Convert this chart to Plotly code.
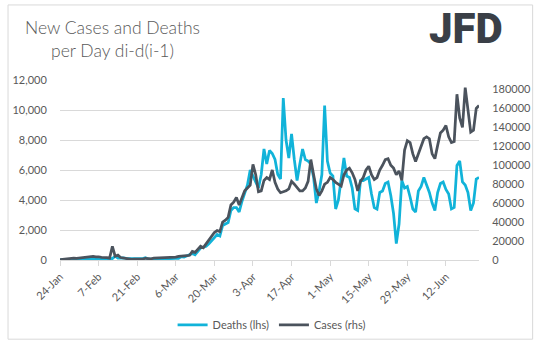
import pandas as pd
import plotly.graph_objects as go

start_date = "2020-01-24"

deaths = [
    8, 16, 15, 24, 26, 26, 38, 43, 46, 45, 57, 64, 65, 73,
    73, 86, 89, 97, 108, 97, 254, 121, 143, 142, 106, 98, 139, 115,
    118, 109, 97, 150, 71, 64, 37, 58, 68, 81, 71, 94, 80, 106,
    103, 101, 228, 194, 277, 342, 441, 354, 614, 800, 850, 907, 1078, 1296,
    1500, 1700, 1600, 2300, 2400, 2500, 3300, 3500, 3500, 3200, 3900, 4400, 5000, 6000,
    5600, 5300, 4800, 5700, 7400, 6400, 7300, 7100, 6700, 5700, 5400, 10800, 8000, 6800,
    8400, 6700, 5300, 6400, 7400, 6700, 6600, 6400, 5500, 3800, 4600, 5700, 10300, 6600,
    5800, 5600, 3400, 4000, 5500, 6800, 5600, 5500, 4800, 3400, 3300, 5300, 5300, 5400,
    5500, 4400, 3500, 3400, 4500, 4600, 5100, 5200, 4300, 3100, 1100, 2400, 5300, 4800,
    4900, 4200, 3400, 3200, 4600, 4900, 5500, 5000, 4500, 3800, 3300, 4500, 5100, 5200,
    4700, 4400, 3400, 3500, 6300, 6600, 5200, 5000, 4500, 3300, 3800, 5400, 5500,
]

cases = [
    300, 700, 700, 1800, 1500, 2000, 1700, 2100, 2600, 2800, 3200, 3900, 3700, 3200,
    3400, 2700, 3000, 2600, 2000, 14500, 4000, 5100, 2600, 2100, 2000, 1900, 600, 1000,
    1000, 1500, 1000, 1800, 1400, 1300, 1900, 2000, 1700, 1900, 2300, 2600, 2500, 2800,
    3000, 3800, 3900, 3700, 4500, 5000, 9000, 8000, 11000, 14500, 13000, 17000, 22000, 25000,
    29000, 31000, 30000, 40000, 42000, 45000, 58000, 61000, 66000, 58000, 65000, 73000, 76000, 79000,
    101000, 90000, 72000, 73000, 84000, 87000, 85000, 95000, 82000, 75000, 71000, 72000, 73000, 75000,
    83000, 80000, 76000, 73000, 73000, 76000, 83000, 106000, 90000, 75000, 68000, 73000, 80000, 82000,
    87000, 85000, 82000, 80000, 78000, 90000, 95000, 97000, 92000, 85000, 73000, 83000, 87000, 95000,
    99000, 90000, 85000, 87000, 95000, 100000, 106000, 107000, 100000, 97000, 90000, 94000, 84000, 116000,
    126000, 124000, 112000, 104000, 112000, 118000, 128000, 130000, 128000, 112000, 107000, 121000, 134000, 137000,
    142000, 130000, 124000, 125000, 175000, 150000, 140000, 182000, 155000, 135000, 137000, 160000, 163000,
]

tick_dates = ["2020-01-24", "2020-02-07", "2020-02-21", "2020-03-06", "2020-03-20",
              "2020-04-03", "2020-04-17", "2020-05-01", "2020-05-15", "2020-05-29", "2020-06-12"]
tick_labels = ["24-Jan", "7-Feb", "21-Feb", "6-Mar", "20-Mar", "3-Apr",
               "17-Apr", "1-May", "15-May", "29-May", "12-Jun"]

left_ticks = [0, 2000, 4000, 6000, 8000, 10000, 12000]
right_ticks = [0, 20000, 40000, 60000, 80000, 100000, 120000, 140000, 160000, 180000]

dates = pd.date_range(start_date, periods=len(deaths), freq="D")

CYAN = "#11b3d9"
DARK = "#4b535d"
TXT = "#595959"
GRID = "#d9d9d9"
FONT = "Lato"

fig = go.Figure()
fig.add_trace(go.Scatter(x=dates, y=deaths, name="Deaths (lhs)", mode="lines",
                         line=dict(color=CYAN, width=2.75), yaxis="y"))
fig.add_trace(go.Scatter(x=dates, y=cases, name="Cases (rhs)", mode="lines",
                         line=dict(color=DARK, width=2.75), yaxis="y2"))

fig.update_layout(
    width=543, height=351,
    margin=dict(l=56, r=60, t=80, b=87),
    paper_bgcolor="white", plot_bgcolor="white",
    font=dict(family=FONT, size=11, color=TXT),
    showlegend=True,
    legend=dict(orientation="h", x=0.505, xanchor="center", y=-0.36, yanchor="middle",
                font=dict(family=FONT, size=11, color=TXT), itemwidth=30,
                bgcolor="rgba(0,0,0,0)"),
    xaxis=dict(
        type="date",
        range=["2020-01-24", "2020-06-24"],
        tickvals=tick_dates, ticktext=tick_labels, tickangle=-45,
        showgrid=False, showline=True, linecolor=GRID, linewidth=1,
        ticks="outside", ticklen=5, tickcolor=GRID,
        tickfont=dict(family=FONT, size=11, color=TXT),
        zeroline=False, fixedrange=True,
    ),
    yaxis=dict(
        range=[0, 12000], tickvals=left_ticks, tickformat=",d",
        showgrid=True, gridcolor=GRID, gridwidth=1, zeroline=False,
        showline=False, ticks="outside", ticklen=10, tickcolor="rgba(0,0,0,0)",
        tickfont=dict(family=FONT, size=11, color=TXT),
    ),
    yaxis2=dict(
        range=[0, 190000], tickvals=right_ticks, tickformat="d",
        overlaying="y", side="right", showgrid=False, zeroline=False,
        showline=False, ticks="outside", ticklen=10, tickcolor="rgba(0,0,0,0)",
        tickfont=dict(family=FONT, size=11, color=TXT),
    ),
    shapes=[dict(type="rect", xref="paper", yref="paper",
                 x0=-0.124, x1=1.128, y0=-0.44, y1=1.417,
                 line=dict(color=GRID, width=1), layer="below")],
    annotations=[
        dict(text="New Cases and Deaths<br>per Day di-d(i-1)", xref="paper", yref="paper",
             x=(110 - 56) / 427, y=(264 - 38) / 184, xanchor="center", yanchor="middle",
             showarrow=False, align="center",
             font=dict(family=FONT, size=17.5, color=TXT, weight=300)),
        dict(text="JFD", xref="paper", yref="paper",
             x=(470 - 56) / 427, y=(264 - 27) / 184, xanchor="center", yanchor="middle",
             showarrow=False, font=dict(family="Roboto", size=42, color="#3a3f47", weight=900)),
    ],
)

fig.write_html("out.html")
